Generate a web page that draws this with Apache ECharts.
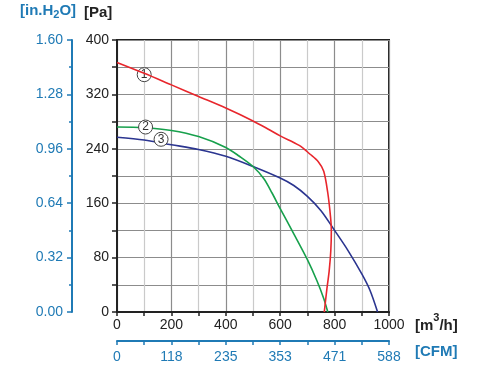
<!DOCTYPE html>
<html><head><meta charset="utf-8">
<script src="https://cdn.jsdelivr.net/npm/echarts@6/dist/echarts.min.js"></script>
<style>html,body{margin:0;padding:0;background:#fff}#c{width:479px;height:373px}</style>
</head><body><div id="c"></div>
<script>
// Data (flow in m3/h, pressure in Pa)
const curve1 = [[0,367],[100,351],[200,334],[300,317],[400,300],[500,281],[560,268],[600,259],[670,245],[710,232],[740,221],[760,207],[775,175],[785,140],[788,120],[786,90],[780,60],[772,35],[762,0]];
const curve2 = [[0,272],[100,271],[200,267],[300,258],[400,242],[450,229],[500,214],[540,196],[570,175],[600,152],[650,115],[700,77],[735,46],[760,20],[775,0]];
const curve3 = [[0,257],[100,253],[200,246],[300,239],[400,229],[500,214],[600,197],[650,186],[700,170],[750,149],[800,120],[850,90],[900,56],[930,32],[958,0]];
const curveNames = ['1','2','3'];
const labelAt = [[100,349],[105,272],[162,254]];
const cfmLabels = ['0','118','235','353','471','588'];

const BLUE = '#1f7ab5';
const TXT = '#222';
const FONT = 'Liberation Sans, Arial, sans-serif';
const colors = ['#e8262c','#17a04c','#2b3590'];

const chart = echarts.init(document.getElementById('c'), null, {renderer:'canvas'});

function mk(i){
  return {
    coord: labelAt[i], value: curveNames[i],
    symbol:'circle', symbolSize:14,
    itemStyle:{color:'#fff', borderColor:'#444', borderWidth:1},
    label:{show:true, formatter:curveNames[i], color:'#333', fontSize:12, fontFamily:FONT, position:'inside'}
  };
}

const series = [curve1, curve2, curve3].map((d,i)=>({
  type:'line', data:d, xAxisIndex:0, yAxisIndex:0,
  showSymbol:false, smooth:0.3, z: 3-i+2,
  lineStyle:{color:colors[i], width:1.6},
  markPoint:{ data:[mk(i)], animation:false, silent:true }
}));

chart.setOption({
  animation:false,
  textStyle:{fontFamily:FONT},
  grid:{left:117, right:90, top:40, bottom:61, show:true, borderColor:'#222', borderWidth:2, backgroundColor:'transparent'},
  xAxis:[{
    type:'value', min:0, max:1000, interval:100, position:'bottom',
    axisLine:{show:true, lineStyle:{color:'#222', width:2}},
    axisTick:{show:true, length:4, lineStyle:{color:'#222', width:1.5}},
    axisLabel:{color:TXT, fontSize:14, margin:6, fontFamily:FONT, formatter:v=> (v%200===0? String(v):'')},
    splitLine:{show:true, lineStyle:{color:['#8c8c8c','#cacaca'], width:1.2}}
  },{
    type:'value', min:0, max:1000, interval:100, position:'bottom', offset:29,
    axisLine:{show:true, onZero:false, lineStyle:{color:BLUE, width:2}},
    axisTick:{show:true, length:4, lineStyle:{color:BLUE, width:1.5}},
    axisLabel:{color:BLUE, fontSize:14, margin:9, fontFamily:FONT, formatter:(v)=> (v%200===0? cfmLabels[v/200]:'')},
    splitLine:{show:false}
  }],
  yAxis:[{
    type:'value', min:0, max:400, interval:40, position:'left',
    axisLine:{show:true, lineStyle:{color:'#222', width:2}},
    axisTick:{show:true, length:5, lineStyle:{color:'#222', width:1.5}},
    axisLabel:{color:TXT, fontSize:14, margin:8, fontFamily:FONT, formatter:v=> (v%80===0? String(v):'')},
    splitLine:{show:true, lineStyle:{color:'#8c8c8c', width:1.2}}
  },{
    type:'value', min:0, max:1.6, interval:0.32, position:'left', offset:45,
    axisLine:{show:true, onZero:false, lineStyle:{color:BLUE, width:2}},
    axisTick:{show:true, length:5, lineStyle:{color:BLUE, width:1.5}},
    minorTick:{show:true, splitNumber:2, length:3, lineStyle:{color:BLUE, width:1.5}},
    axisLabel:{color:BLUE, fontSize:14, margin:9, fontFamily:FONT, formatter:v=> v.toFixed(2)},
    splitLine:{show:false}
  }],
  graphic:[
    {type:'text', left:20, top:3, style:{text:'{a|[in.H}{s|2}{a|O]}', rich:{a:{fontSize:15, fontWeight:'bold', fill:BLUE, fontFamily:FONT}, s:{fontSize:11, fontWeight:'bold', fill:BLUE, fontFamily:FONT, padding:[9,0,0,0]}}}},
    {type:'text', left:84, top:5, style:{text:'[Pa]', fontSize:15, fontWeight:'bold', fill:TXT, fontFamily:FONT}},
    {type:'text', left:415, top:312, style:{text:'{a|[m}{s|3}{a|/h]}', rich:{a:{fontSize:15, fontWeight:'bold', fill:TXT, fontFamily:FONT, padding:[9,0,0,0]}, s:{fontSize:11, fontWeight:'bold', fill:TXT, fontFamily:FONT, padding:[0,0,7,0]}}}},
    {type:'text', left:415, top:344, style:{text:'[CFM]', fontSize:15, fontWeight:'bold', fill:BLUE, fontFamily:FONT}}
  ],
  series: series
});
</script></body></html>
